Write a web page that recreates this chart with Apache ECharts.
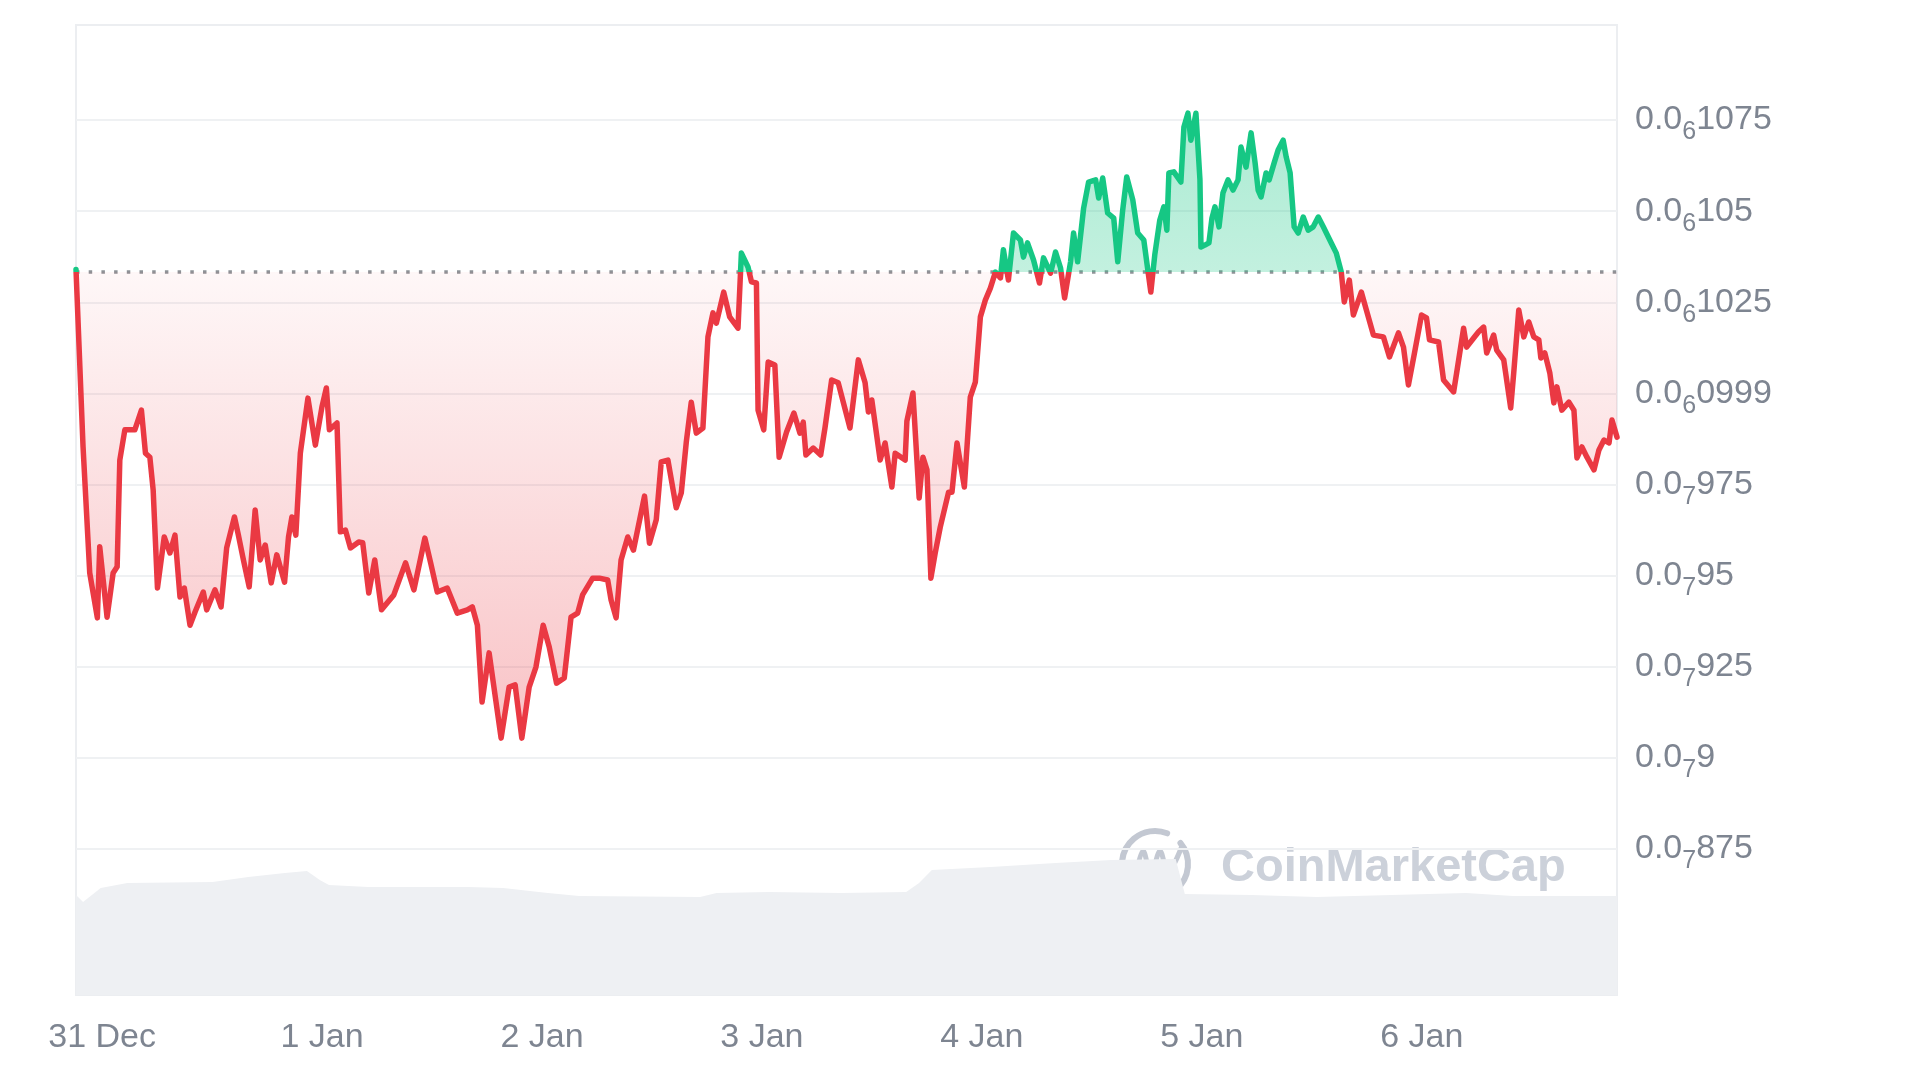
<!DOCTYPE html>
<html>
<head>
<meta charset="utf-8">
<title>Price chart</title>
<script src="https://cdn.jsdelivr.net/npm/echarts@6/dist/echarts.min.js"></script>
<style>
  html, body { margin: 0; padding: 0; background: #ffffff; }
  #chart { width: 1920px; height: 1080px; }
</style>
</head>
<body>
<div id="chart"></div>
<script>
// ---- data (price in units of 1e-9, time in hours since start) ----
const START_UTC = Date.UTC(2024, 11, 30, 21, 9);
const HOUR_MS = 3600000;
const BASE_PRICE = 103.33;   // opening price (dotted reference line)
const MONTHS = ['Jan','Feb','Mar','Apr','May','Jun','Jul','Aug','Sep','Oct','Nov','Dec'];

const priceHours = [
  0,0.77,1.50,2.33,2.59,3.39,4.05,4.49,4.78,5.33,6.42,7.14,7.58,8.06,8.42,8.89,9.63,10.25,10.80,11.35,
  11.82,12.44,12.99,13.89,14.26,15.17,15.83,16.44,17.29,17.72,18.27,18.90,19.55,20.10,20.65,21.30,21.91,22.76,23.19,23.56,
  23.99,24.48,25.31,26.12,26.84,27.32,27.65,28.48,28.85,29.40,29.95,30.85,31.29,31.95,32.60,33.34,33.95,34.68,35.96,36.87,
  38.07,38.70,39.42,40.51,41.61,42.70,43.25,43.80,44.31,45.08,46.39,47.26,47.92,48.65,49.45,50.19,50.98,51.64,52.44,53.28,
  54.02,54.74,55.28,56.38,57.11,58.02,58.39,58.94,59.48,60.21,60.83,62.04,62.58,63.32,63.86,64.59,65.50,66.05,66.60,67.14,
  67.69,68.41,68.96,69.51,69.88,70.68,71.33,72.24,72.61,73.33,73.71,74.25,74.43,75.05,75.53,76.26,76.73,77.54,78.34,79.00,
  79.36,79.65,80.45,81.26,81.73,82.46,83.18,84.46,85.37,86.11,86.47,86.84,87.75,88.29,89.03,89.39,90.48,90.67,91.33,92.01,
  92.42,92.86,93.29,93.76,94.31,95.22,95.59,96.14,96.94,97.59,98.14,98.69,99.23,99.78,100.33,100.88,101.20,101.75,102.30,103.06,
  103.39,103.83,104.49,105.14,105.58,106.35,106.89,107.44,107.88,108.53,108.86,109.30,109.96,110.50,111.27,111.60,112.04,112.58,113.24,113.68,
  114.22,114.66,115.32,115.86,116.52,116.96,117.29,117.72,118.27,118.71,119.04,119.26,119.80,120.57,120.90,121.34,121.66,122.21,122.65,122.76,
  123.19,123.63,123.96,124.29,124.73,125.16,125.71,126.26,126.81,127.13,127.68,128.23,128.67,129.00,129.32,129.87,130.20,130.74,131.18,131.73,
  132.06,132.49,132.93,133.37,133.92,134.46,135.01,135.56,136.11,136.98,137.53,138.07,138.40,138.95,139.39,140.26,140.81,141.58,142.67,143.33,
  144.31,144.86,145.40,146.06,146.83,147.37,147.70,148.69,149.23,150.33,150.66,151.42,151.75,152.52,153.06,153.61,153.94,154.70,155.03,155.80,
  156.56,156.89,157.44,157.99,158.53,159.08,159.63,159.85,160.28,160.83,161.27,161.60,162.14,162.91,163.46,163.79,164.33,164.88,165.65,166.19,
  166.74,167.29,167.61,168.16
];
const prices = [
  103.40,98.53,95.07,93.84,95.79,93.86,95.07,95.24,98.17,99.00,99.00,99.54,98.36,98.25,97.35,94.66,96.06,95.62,96.11,94.41,
  94.66,93.64,94.00,94.55,94.06,94.61,94.14,95.76,96.61,96.11,95.43,94.69,96.80,95.43,95.84,94.80,95.57,94.82,96.06,96.61,
  96.11,98.36,99.87,98.58,99.63,100.15,99.00,99.19,96.20,96.25,95.76,95.92,95.90,94.52,95.43,94.06,94.25,94.47,95.35,94.61,
  96.03,95.35,94.55,94.66,93.97,94.06,94.14,93.64,91.53,92.88,90.54,91.94,92.00,90.54,91.94,92.49,93.64,93.04,92.05,92.19,
  93.86,93.97,94.47,94.93,94.93,94.88,94.33,93.84,95.43,96.06,95.70,97.18,95.89,96.53,98.12,98.17,96.86,97.27,98.67,99.76,
  98.91,99.05,101.55,102.21,101.93,102.78,102.10,101.79,103.85,103.47,103.06,103.03,99.54,99.00,100.86,100.78,98.25,98.94,99.46,98.91,
  99.21,98.31,98.50,98.31,99.05,100.37,100.29,99.05,100.92,100.29,99.49,99.82,98.17,98.64,97.43,98.36,98.17,99.24,100.01,97.13,
  98.25,97.90,94.93,95.62,96.33,97.29,97.29,98.64,97.43,99.90,100.31,102.10,102.56,102.89,103.33,103.17,103.94,103.11,104.40,104.21,
  103.74,104.13,103.66,103.03,103.72,103.30,103.88,103.44,102.62,103.61,104.40,103.61,105.09,105.80,105.86,105.36,105.91,104.95,104.81,103.61,
  105.03,105.94,105.31,104.40,104.21,103.39,102.78,103.80,104.76,105.12,104.48,106.05,106.08,105.80,107.31,107.69,106.95,107.69,105.86,104.02,
  104.07,104.13,104.81,105.12,104.57,105.50,105.86,105.58,105.86,106.76,106.21,107.15,106.32,105.58,105.39,106.05,105.86,106.32,106.68,106.95,
  106.49,106.05,104.57,104.40,104.84,104.48,104.57,104.84,104.57,104.13,103.85,103.33,102.51,103.11,102.15,102.78,102.29,101.60,101.55,101.00,
  101.66,101.27,100.23,101.11,102.15,102.07,101.47,101.41,100.37,100.04,100.56,101.79,101.27,101.52,101.69,101.82,101.11,101.60,101.19,100.92,
  99.60,100.56,102.29,101.55,101.96,101.55,101.47,100.97,101.11,100.56,99.74,100.18,99.54,99.76,99.54,98.23,98.53,98.25,97.90,98.45,
  98.72,98.64,99.27,98.80
];

// volume (relative units)
const volumeHours = [0,0.77,2.7,5.6,14.9,18.8,22.8,25.2,26.6,27.6,31.9,42.8,46.6,51.5,54.9,68.1,69.9,75.6,83.5,90.6,92.0,93.4,99.8,106.9,113.0,120.0,121.0,128.3,135.4,151.7,156.8,168.16];
const volumes     = [100,93,107,112,113,118,122,124,115,110,108,108,107,102,99,98,102,103,102,103,112,125,128,132,135,136,101,100,98,102,99,99];

// y-axis tick labels: 0.0 + subscript zero-count + significant digits
const tickValues = [87.5, 90, 92.5, 95, 97.5, 100, 102.5, 105, 107.5];
const tickZeros  = [7, 7, 7, 7, 7, 6, 6, 6, 6];
const tickDigits = ['875', '9', '925', '95', '975', '0999', '1025', '105', '1075'];

// ---- build ----
const toTs = h => START_UTC + h * HOUR_MS;
const priceData = priceHours.map((h, i) => [toTs(h), prices[i]]);
const volumeData = volumeHours.map((h, i) => [toTs(h), volumes[i]]);
const xMin = toTs(priceHours[0]);
const xMax = toTs(priceHours[priceHours.length - 1]);
const baseData = [[xMin, BASE_PRICE], [xMax, BASE_PRICE]];

const GRID_L = 76, GRID_R = 303, PRICE_TOP = 29, PRICE_BOTTOM = 140;
const Y_MIN = 85, Y_MAX = 110;
const priceTopPx = PRICE_TOP, priceBottomPx = 1080 - PRICE_BOTTOM;
const baseOff = (Y_MAX - BASE_PRICE) / (Y_MAX - Y_MIN);

const lineGradient = new echarts.graphic.LinearGradient(0, priceTopPx, 0, priceBottomPx, [
  { offset: 0, color: '#16c784' },
  { offset: baseOff, color: '#16c784' },
  { offset: baseOff, color: '#ea3943' },
  { offset: 1, color: '#ea3943' }
], true);
const areaGradient = new echarts.graphic.LinearGradient(0, priceTopPx, 0, priceBottomPx, [
  { offset: 0, color: 'rgba(22,199,132,0.42)' },
  { offset: baseOff, color: 'rgba(22,199,132,0.26)' },
  { offset: baseOff, color: 'rgba(234,57,67,0.04)' },
  { offset: 1, color: 'rgba(234,57,67,0.42)' }
], true);

const labelColor = '#7e8591';
const fontFam = '"Liberation Sans", Arial, sans-serif';

const chart = echarts.init(document.getElementById('chart'));
chart.setOption({
  animation: false,
  useUTC: true,
  backgroundColor: '#ffffff',
  grid: [
    { left: GRID_L, right: GRID_R, top: PRICE_TOP, bottom: PRICE_BOTTOM },
    { left: GRID_L, right: GRID_R, top: 845, bottom: 85 },
    { left: GRID_L, right: GRID_R, top: 25, bottom: 85, show: true, borderColor: '#eceef1', borderWidth: 2, backgroundColor: 'transparent', z: 0 }
  ],
  xAxis: [
    { type: 'time', gridIndex: 0, min: xMin, max: xMax, show: false, splitLine: { show: false } },
    {
      type: 'time', gridIndex: 1, min: xMin, max: xMax,
      minInterval: 24 * HOUR_MS, maxInterval: 24 * HOUR_MS,
      axisLine: { show: false }, axisTick: { show: false }, splitLine: { show: false },
      axisLabel: {
        margin: 26, fontSize: 34, color: labelColor, fontFamily: fontFam,
        formatter: v => { const d = new Date(v); return d.getUTCDate() + ' ' + MONTHS[d.getUTCMonth()]; }
      }
    },
    { type: 'value', gridIndex: 2, show: false }
  ],
  yAxis: [
    {
      type: 'value', gridIndex: 0, position: 'right', min: Y_MIN, max: Y_MAX, interval: 2.5,
      axisLine: { show: false }, axisTick: { show: false },
      splitLine: { show: true, showMinLine: false, showMaxLine: false, lineStyle: { color: '#eff1f3', width: 2 } },
      axisLabel: {
        margin: 18, showMinLabel: false, showMaxLabel: false,
        formatter: v => {
          const i = tickValues.findIndex(t => Math.abs(t - v) < 1e-6);
          if (i < 0) return '';
          return '{m|0.0}{s|' + tickZeros[i] + '}{m|' + tickDigits[i] + '}';
        },
        rich: {
          m: { fontSize: 34, color: labelColor, fontFamily: fontFam, lineHeight: 50 },
          s: { fontSize: 25, color: labelColor, fontFamily: fontFam, lineHeight: 18, verticalAlign: 'bottom' }
        }
      }
    },
    { type: 'value', gridIndex: 1, min: 0, max: 150, show: false, splitLine: { show: false } },
    { type: 'value', gridIndex: 2, show: false }
  ],
  series: [
    {
      name: 'Baseline', type: 'line', xAxisIndex: 0, yAxisIndex: 0,
      data: baseData, showSymbol: false, symbol: 'none', silent: true, z: 3,
      lineStyle: { color: '#8e9297', width: 3.5, type: [3.5, 9.2] }
    },
    {
      name: 'Price', type: 'line', xAxisIndex: 0, yAxisIndex: 0,
      data: priceData, showSymbol: false, symbol: 'none', z: 5,
      lineStyle: { width: 5.5, color: lineGradient, join: 'round', cap: 'round' },
      areaStyle: { origin: BASE_PRICE, color: areaGradient, opacity: 1 }
    },
    {
      name: 'Volume', type: 'line', xAxisIndex: 1, yAxisIndex: 1,
      data: volumeData, showSymbol: false, symbol: 'none', z: 1,
      lineStyle: { width: 0 },
      areaStyle: { color: '#eef0f3', opacity: 1 }
    }
  ],
  graphic: [
    {
      type: 'group', z: 50, silent: true,
      children: [
        { type: 'arc', shape: { cx: 1155, cy: 864, r: 33, startAngle: -Math.PI * 0.22, endAngle: Math.PI * 1.62, clockwise: true },
          style: { stroke: '#c3c8d2', lineWidth: 6, fill: null, lineCap: 'round' } },
        { type: 'polyline', shape: { points: [[1135, 880], [1143, 851], [1151, 874], [1160, 851], [1168, 872], [1182, 846]], smooth: 0.35 },
          style: { stroke: '#c3c8d2', lineWidth: 5, fill: null, lineCap: 'round', lineJoin: 'round' } },
        { type: 'text', x: 1221, y: 868,
          style: { text: 'CoinMarketCap', font: 'bold 47px "Liberation Sans", Arial, sans-serif', fill: '#ccd1da', verticalAlign: 'middle', align: 'left' } }
      ]
    }
  ]
});
</script>
</body>
</html>
